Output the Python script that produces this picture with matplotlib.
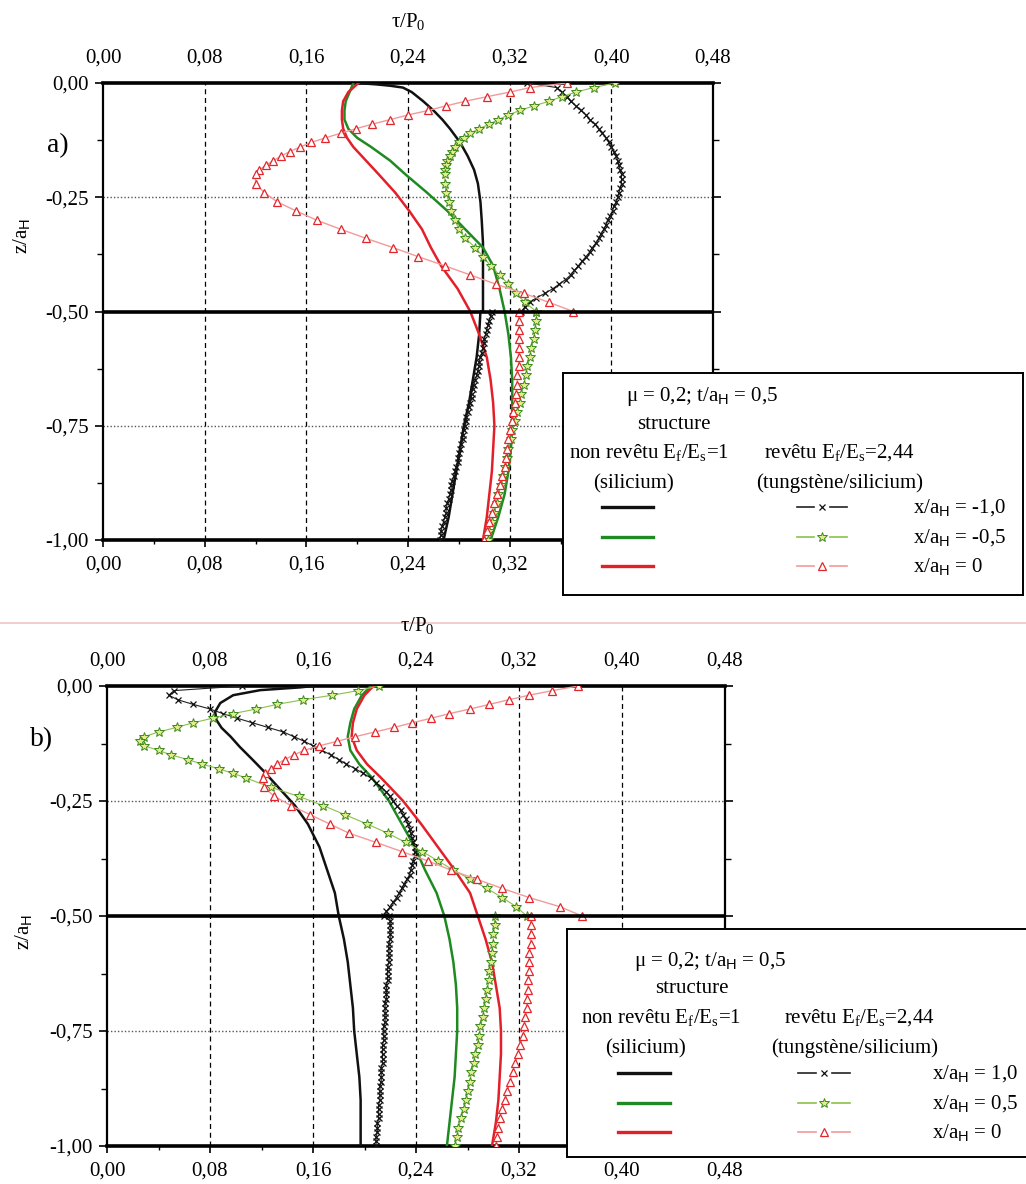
import matplotlib
matplotlib.use("Agg")
import matplotlib.pyplot as plt
from matplotlib.lines import Line2D
from matplotlib.ticker import FixedLocator, FuncFormatter, MultipleLocator

plt.rcParams["font.family"] = ["Liberation Serif", "DejaVu Serif"]
plt.rcParams["mathtext.fontset"] = "custom"
plt.rcParams["mathtext.rm"] = "Liberation Serif"
plt.rcParams["mathtext.it"] = "Liberation Serif:italic"
plt.rcParams["mathtext.sf"] = "Liberation Sans"

W, H = 1026, 1184

X_TICKS = [0.00, 0.08, 0.16, 0.24, 0.32, 0.40, 0.48]
Y_TICKS = [0.00, -0.25, -0.50, -0.75, -1.00]

# cotes z des points
Z_FINE_TOP = [0.00, -0.01, -0.02, -0.03, -0.04, -0.05, -0.06, -0.07, -0.08, -0.09,
              -0.10, -0.11, -0.12, -0.13, -0.14, -0.15, -0.16, -0.17, -0.18, -0.19,
              -0.20, -0.21, -0.22, -0.23, -0.24, -0.25, -0.26, -0.27, -0.28, -0.29,
              -0.30, -0.31, -0.32, -0.33, -0.34, -0.35, -0.36, -0.37, -0.38, -0.39,
              -0.40, -0.41, -0.42, -0.43, -0.44, -0.45, -0.46, -0.47, -0.48, -0.49,
              -0.50]
Z_FINE_BOT = [-0.50, -0.51, -0.52, -0.53, -0.54, -0.55, -0.56, -0.57, -0.58, -0.59,
              -0.60, -0.61, -0.62, -0.63, -0.64, -0.65, -0.66, -0.67, -0.68, -0.69,
              -0.70, -0.71, -0.72, -0.73, -0.74, -0.75, -0.76, -0.77, -0.78, -0.79,
              -0.80, -0.81, -0.82, -0.83, -0.84, -0.85, -0.86, -0.87, -0.88, -0.89,
              -0.90, -0.91, -0.92, -0.93, -0.94, -0.95, -0.96, -0.97, -0.98, -0.99,
              -1.00]
Z_MID = [0.00, -0.01, -0.02, -0.03, -0.04, -0.05, -0.06, -0.07, -0.08, -0.09,
         -0.10, -0.11, -0.12, -0.13, -0.14, -0.15, -0.16, -0.17, -0.18, -0.19,
         -0.20, -0.22, -0.24, -0.26, -0.28, -0.30, -0.32, -0.34, -0.36, -0.38,
         -0.40, -0.42, -0.44, -0.46, -0.48, -0.50]
Z_BOT = [-0.50, -0.52, -0.54, -0.56, -0.58, -0.60, -0.62, -0.64, -0.66, -0.68, -0.70, -0.72, -0.74,
         -0.76, -0.78, -0.80, -0.82, -0.84, -0.86, -0.88, -0.90, -0.92, -0.94, -0.96, -0.98, -1.00]
Z_SOLID_BOT = [-0.50, -0.55, -0.60, -0.65, -0.70, -0.75, -0.80, -0.85, -0.90, -0.95, -1.00]

# ---- a) x/aH = -1,0 ; -0,5 ; 0 ----
A_BLACK_Z = [0.00, -0.003, -0.006, -0.01, -0.02, -0.04, -0.06, -0.08, -0.10, -0.13, -0.16, -0.19,
             -0.22, -0.26, -0.30, -0.35, -0.40, -0.45, -0.50]
A_BLACK_X = [0.200, 0.215, 0.226, 0.236, 0.243, 0.252, 0.260, 0.267, 0.273, 0.281, 0.287, 0.292,
             0.295, 0.297, 0.298, 0.299, 0.299, 0.299, 0.299]
A_BLACK_XB = [0.297, 0.296, 0.294, 0.291, 0.288, 0.284, 0.281, 0.278, 0.275, 0.272, 0.268]

A_GREEN_Z = [0.00, -0.02, -0.04, -0.06, -0.08, -0.10, -0.12, -0.14, -0.17, -0.20, -0.24, -0.28,
             -0.32, -0.36, -0.40, -0.45, -0.50]
A_GREEN_X = [0.197, 0.194, 0.191, 0.190, 0.190, 0.193, 0.200, 0.211, 0.226, 0.238, 0.255, 0.271,
             0.285, 0.299, 0.307, 0.312, 0.316]
A_GREEN_XB = [0.316, 0.319, 0.321, 0.322, 0.322, 0.322, 0.321, 0.319, 0.316, 0.311, 0.305]

A_RED_Z = A_GREEN_Z
A_RED_X = [0.201, 0.193, 0.189, 0.188, 0.188, 0.189, 0.192, 0.197, 0.207, 0.217, 0.230, 0.241,
           0.251, 0.258, 0.266, 0.279, 0.289]
A_RED_XB = [0.289, 0.296, 0.302, 0.305, 0.307, 0.308, 0.307, 0.306, 0.304, 0.302, 0.299]

A_XMARK_X = [0.334, 0.357, 0.361, 0.365, 0.368, 0.372, 0.376, 0.380, 0.383, 0.387,
             0.390, 0.393, 0.396, 0.398, 0.400, 0.402, 0.404, 0.405, 0.406, 0.407,
             0.408, 0.408, 0.408, 0.407, 0.406, 0.405, 0.404, 0.402, 0.401, 0.399,
             0.397, 0.396, 0.394, 0.392, 0.390, 0.388, 0.385, 0.383, 0.380, 0.377,
             0.374, 0.371, 0.368, 0.364, 0.359, 0.354, 0.348, 0.341, 0.336, 0.332,
             0.329]
A_XMARK_XB = [0.306, 0.305, 0.304, 0.303, 0.302, 0.301, 0.300, 0.300, 0.299, 0.298,
              0.297, 0.296, 0.296, 0.295, 0.294, 0.293, 0.292, 0.291, 0.290, 0.290,
              0.289, 0.288, 0.287, 0.286, 0.286, 0.285, 0.284, 0.283, 0.283, 0.282,
              0.281, 0.280, 0.279, 0.279, 0.278, 0.277, 0.276, 0.275, 0.274, 0.274,
              0.273, 0.272, 0.271, 0.270, 0.270, 0.269, 0.268, 0.267, 0.266, 0.266,
              0.265]

A_STAR_X = [0.403, 0.386, 0.372, 0.361, 0.351, 0.339, 0.328, 0.319, 0.311, 0.304,
            0.296, 0.289, 0.284, 0.280, 0.277, 0.275, 0.273, 0.271, 0.270, 0.269,
            0.269, 0.269, 0.270, 0.272, 0.274, 0.277, 0.280, 0.285, 0.293, 0.299,
            0.305, 0.312, 0.319, 0.325, 0.332, 0.341]
A_STAR_XB = [0.341, 0.341, 0.340, 0.339, 0.337, 0.336, 0.334, 0.333, 0.331, 0.329, 0.328, 0.326,
             0.324, 0.322, 0.321, 0.319, 0.318, 0.316, 0.315, 0.313, 0.311, 0.310, 0.308, 0.306,
             0.304, 0.303]

A_TRI_X = [0.365, 0.336, 0.320, 0.302, 0.285, 0.270, 0.256, 0.240, 0.226, 0.212,
           0.199, 0.187, 0.175, 0.164, 0.155, 0.147, 0.140, 0.134, 0.128, 0.123,
           0.120, 0.120, 0.127, 0.137, 0.152, 0.168, 0.187, 0.207, 0.228, 0.248,
           0.269, 0.289, 0.309, 0.331, 0.351, 0.370]
A_TRI_XB = [0.327, 0.327, 0.327, 0.327, 0.327, 0.327, 0.327, 0.326, 0.326, 0.325, 0.324, 0.323,
            0.322, 0.320, 0.319, 0.318, 0.317, 0.316, 0.314, 0.312, 0.310, 0.308, 0.306, 0.304,
            0.302, 0.300]

# ---- b) x/aH = 1,0 ; 0,5 ; 0 ----
B_BLACK_Z = [0.00, -0.003, -0.009, -0.02, -0.037, -0.056, -0.074, -0.091, -0.11, -0.132, -0.16,
             -0.183, -0.22, -0.26, -0.30, -0.35, -0.40, -0.45, -0.50]
B_BLACK_X = [0.160, 0.150, 0.119, 0.098, 0.088, 0.084, 0.085, 0.089, 0.096, 0.103, 0.113,
             0.121, 0.133, 0.146, 0.156, 0.165, 0.171, 0.177, 0.180]
B_BLACK_XB = [0.180, 0.184, 0.187, 0.189, 0.191, 0.192, 0.194, 0.196, 0.197, 0.197, 0.197]

B_GREEN_Z = [0.00, -0.02, -0.05, -0.08, -0.11, -0.14, -0.17, -0.20, -0.25, -0.30, -0.35, -0.40,
             -0.45, -0.50]
B_GREEN_X = [0.205, 0.198, 0.192, 0.189, 0.187, 0.189, 0.196, 0.206, 0.219, 0.229, 0.239, 0.247,
             0.256, 0.262]
B_GREEN_XB = [0.262, 0.266, 0.269, 0.271, 0.272, 0.272, 0.271, 0.270, 0.268, 0.266, 0.264]

B_RED_Z = B_GREEN_Z
B_RED_X = [0.207, 0.200, 0.194, 0.191, 0.190, 0.194, 0.202, 0.213, 0.230, 0.244, 0.257, 0.270,
           0.282, 0.288]
B_RED_XB = [0.288, 0.294, 0.299, 0.302, 0.305, 0.306, 0.306, 0.305, 0.304, 0.302, 0.299]

B_XMARK_X = [0.105, 0.052, 0.048, 0.055, 0.067, 0.080, 0.090, 0.101, 0.113, 0.125,
             0.137, 0.145, 0.153, 0.160, 0.167, 0.174, 0.180, 0.186, 0.193, 0.199,
             0.205, 0.209, 0.213, 0.217, 0.220, 0.222, 0.225, 0.228, 0.230, 0.232,
             0.234, 0.235, 0.236, 0.237, 0.238, 0.239, 0.239, 0.239, 0.238, 0.237,
             0.236, 0.235, 0.233, 0.231, 0.229, 0.227, 0.225, 0.222, 0.220, 0.217,
             0.215]
B_XMARK_XB = [0.219, 0.220, 0.220, 0.220, 0.220, 0.220, 0.219, 0.219, 0.219, 0.219,
              0.219, 0.218, 0.218, 0.218, 0.218, 0.217, 0.217, 0.217, 0.217, 0.216,
              0.216, 0.216, 0.216, 0.216, 0.215, 0.215, 0.215, 0.215, 0.214, 0.214,
              0.214, 0.214, 0.214, 0.213, 0.213, 0.213, 0.213, 0.212, 0.212, 0.212,
              0.212, 0.211, 0.211, 0.211, 0.211, 0.210, 0.210, 0.210, 0.209, 0.209,
              0.209]

B_STAR_X = [0.211, 0.195, 0.175, 0.152, 0.132, 0.116, 0.098, 0.082, 0.067, 0.054,
            0.040, 0.029, 0.026, 0.029, 0.040, 0.050, 0.063, 0.074, 0.087, 0.098,
            0.108, 0.127, 0.149, 0.168, 0.185, 0.202, 0.218, 0.232, 0.245, 0.257,
            0.269, 0.282, 0.295, 0.307, 0.318, 0.326]
B_STAR_XB = [0.301, 0.301, 0.300, 0.300, 0.299, 0.298, 0.297, 0.297, 0.295, 0.294, 0.293, 0.292,
             0.290, 0.289, 0.288, 0.286, 0.285, 0.283, 0.282, 0.280, 0.279, 0.277, 0.275, 0.273,
             0.272, 0.270]

B_TRI_X = [0.366, 0.346, 0.328, 0.312, 0.297, 0.282, 0.266, 0.252, 0.237, 0.223,
           0.208, 0.193, 0.179, 0.165, 0.153, 0.145, 0.138, 0.132, 0.127, 0.123,
           0.121, 0.122, 0.130, 0.143, 0.158, 0.173, 0.188, 0.209, 0.229, 0.249,
           0.267, 0.287, 0.307, 0.328, 0.352, 0.369]
B_TRI_XB = [0.329, 0.329, 0.329, 0.329, 0.328, 0.328, 0.328, 0.327, 0.327, 0.326, 0.326, 0.325,
            0.324, 0.323, 0.321, 0.319, 0.317, 0.315, 0.313, 0.311, 0.309, 0.307, 0.305, 0.304,
            0.303, 0.302]

A_POS = ["x/a$_\\mathsf{H}$ = -1,0", "x/a$_\\mathsf{H}$ = -0,5", "x/a$_\\mathsf{H}$ = 0"]
B_POS = ["x/a$_\\mathsf{H}$ = 1,0", "x/a$_\\mathsf{H}$ = 0,5", "x/a$_\\mathsf{H}$ = 0"]

SOLID = {"k": "#111111", "g": "#1f8a22", "r": "#e3202a"}
MARK = {
    "k": dict(color="#222222", lw=0.8, marker="x", ms=5, mew=0.9, mec="#111111"),
    "g": dict(color="#8cc04a", lw=0.8, marker="*", ms=7.5, mew=0.7, mec="#3d8a1c", mfc="#e4ec8c"),
    "r": dict(color="#f29a9a", lw=1.0, marker="^", ms=6, mew=0.9, mec="#e3262b", mfc="white"),
}


def comma(v, _pos=None):
    if abs(v) < 1e-9:
        v = 0.0
    return f"{v:.2f}".replace(".", ",")


def px_axes(fig, l, t, r, b, **kw):
    return fig.add_axes([l / W, 1 - b / H, (r - l) / W, (b - t) / H], **kw)


def setup(ax):
    ax.set_xlim(0, 0.48)
    ax.set_ylim(-1, 0)
    ax.xaxis.set_major_locator(FixedLocator(X_TICKS))
    ax.xaxis.set_minor_locator(MultipleLocator(0.04))
    ax.yaxis.set_major_locator(FixedLocator(Y_TICKS))
    ax.yaxis.set_minor_locator(MultipleLocator(0.125))
    ax.xaxis.set_major_formatter(FuncFormatter(comma))
    ax.yaxis.set_major_formatter(FuncFormatter(comma))
    ax.tick_params(axis="x", which="both", bottom=True, top=False, labeltop=True,
                   labelbottom=True, direction="out")
    ax.tick_params(axis="x", which="major", length=5, width=1.2, labelsize=15, pad=6)
    ax.tick_params(axis="x", which="minor", length=3, width=1.0)
    ax.tick_params(axis="y", which="both", left=True, right=True, direction="out")
    ax.tick_params(axis="y", which="major", length=6, width=1.2, labelsize=15, pad=4)
    ax.tick_params(axis="y", which="minor", length=4, width=1.0)
    for side, lw in (("top", 2.6), ("bottom", 2.6), ("left", 1.6), ("right", 1.6)):
        ax.spines[side].set_linewidth(lw)
    for x in X_TICKS[1:-1]:
        ax.axvline(x, color="black", lw=0.9, ls=(0, (4, 3)), zorder=1)
    for y in (-0.25, -0.75):
        ax.axhline(y, color="#555555", lw=1.0, ls=(0, (1, 1.5)), zorder=1)
    ax.axhline(-0.5, color="black", lw=2.6, zorder=4)


def draw(ax, solids, marks):
    for key, (z, x, xb) in solids.items():
        ax.plot(x + xb, z + Z_SOLID_BOT, color=SOLID[key], lw=1.8, zorder=3)
    for key, (z, zb, x, xb) in marks.items():
        ax.plot(x + xb, z + zb, zorder=3, **MARK[key])


def legend_box(fig, box, heads, labels, solid_x, mark_x, label_x, rows_y):
    l, t, r, b = box
    lax = px_axes(fig, l, t, r, b, zorder=10)
    lax.set_xlim(l, r)
    lax.set_ylim(b, t)
    lax.set_xticks([])
    lax.set_yticks([])
    lax.set_facecolor("white")
    for s in lax.spines.values():
        s.set_linewidth(1.4)
    for txt, x, y in heads:
        lax.text(x, y, txt, ha="center", va="baseline", fontsize=15)
    m0, m1 = mark_x
    mc = (m0 + m1) / 2
    for key, lab, y in zip(("k", "g", "r"), labels, rows_y):
        lax.plot(solid_x, [y, y], color=SOLID[key], lw=2.4)
        st = MARK[key]
        lax.plot([m0, mc - 8], [y, y], color=st["color"], lw=1.2)
        lax.plot([mc + 8, m1], [y, y], color=st["color"], lw=1.2)
        lax.plot([mc], [y], ls="none", **{k: v for k, v in st.items() if k not in ("color", "lw")})
        lax.text(label_x, y + 6, lab, ha="left", va="baseline", fontsize=15)


fig = plt.figure(figsize=(W / 100, H / 100), dpi=100)
fig.patch.set_facecolor("white")

# trait de séparation rosé de la page scannée
fig.add_artist(Line2D([0, 1], [1 - 623 / H] * 2, color="#f0c6c6", lw=1.2,
                      transform=fig.transFigure))

ax_a = px_axes(fig, 103, 83, 713, 540)
setup(ax_a)
draw(ax_a,
     {"k": (A_BLACK_Z, A_BLACK_X, A_BLACK_XB),
      "g": (A_GREEN_Z, A_GREEN_X, A_GREEN_XB),
      "r": (A_RED_Z, A_RED_X, A_RED_XB)},
     {"k": (Z_FINE_TOP, Z_FINE_BOT, A_XMARK_X, A_XMARK_XB),
      "g": (Z_MID, Z_BOT, A_STAR_X, A_STAR_XB),
      "r": (Z_MID, Z_BOT, A_TRI_X, A_TRI_XB)})

ax_b = px_axes(fig, 107, 686, 725, 1146)
setup(ax_b)
draw(ax_b,
     {"k": (B_BLACK_Z, B_BLACK_X, B_BLACK_XB),
      "g": (B_GREEN_Z, B_GREEN_X, B_GREEN_XB),
      "r": (B_RED_Z, B_RED_X, B_RED_XB)},
     {"k": (Z_FINE_TOP, Z_FINE_BOT, B_XMARK_X, B_XMARK_XB),
      "g": (Z_MID, Z_BOT, B_STAR_X, B_STAR_XB),
      "r": (Z_MID, Z_BOT, B_TRI_X, B_TRI_XB)})

# titres d'axes et repères de panneau
for x, y in ((408, 22), (417, 626)):
    fig.text(x / W, 1 - y / H, "τ/P$_\\mathrm{0}$", ha="center", va="center", fontsize=15)
for x, y in ((22, 236), (24, 932)):
    fig.text(x / W, 1 - y / H, "z/a$_\\mathsf{H}$", ha="center", va="center", rotation=90,
             fontsize=15)
fig.text(58 / W, 1 - 146 / H, "a)", ha="center", va="center", fontsize=20)
fig.text(42 / W, 1 - 740 / H, "b)", ha="center", va="center", fontsize=20)

HEAD = "μ = 0,2; t/a$_\\mathsf{H}$ = 0,5"
NONREV = "non revêtu E$_\\mathrm{f}$/E$_\\mathrm{s}$=1"
REV = "revêtu E$_\\mathrm{f}$/E$_\\mathrm{s}$=2,44"

legend_box(fig, (563, 373, 1023, 595),
           [(HEAD, 702, 401), ("structure", 674, 429), (NONREV, 649, 458), (REV, 839, 458),
            ("(silicium)", 634, 488), ("(tungstène/silicium)", 840, 488)],
           A_POS, [602, 653], (797, 847), 913, (507, 537, 566))
legend_box(fig, (567, 929, 1036, 1157),
           [(HEAD, 710, 966), ("structure", 692, 993), (NONREV, 661, 1023), (REV, 859, 1023),
            ("(silicium)", 646, 1053), ("(tungstène/silicium)", 855, 1053)],
           B_POS, [618, 670], (798, 850), 932, (1073, 1103, 1132))

fig.savefig("out.png", dpi=100)
